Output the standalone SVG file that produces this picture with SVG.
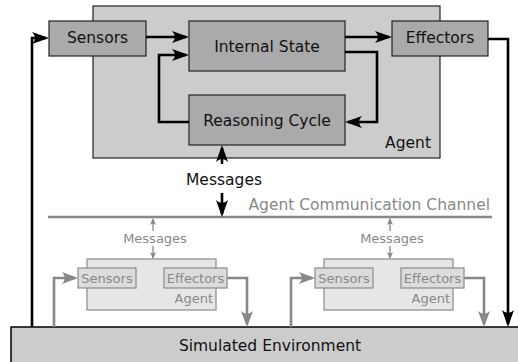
<svg xmlns="http://www.w3.org/2000/svg" width="518" height="362" viewBox="0 0 518 362">
<defs>
<style>
text{font-family:"DejaVu Sans","Liberation Sans",sans-serif}
.big{font-size:15.5px;fill:#111}
.sm{font-size:13px;fill:#888}
.box{fill:#aaaaaa;stroke:#222;stroke-width:1.2}
.sbox{fill:#dcdcdc;stroke:#8a8a8a;stroke-width:1.2}
.blk{fill:none;stroke:#000;stroke-width:2.6;stroke-linejoin:miter}
.gry{fill:none;stroke:#888;stroke-width:2.6}
.gryt{fill:none;stroke:#888;stroke-width:1.3}
</style>
<marker id="ab" viewBox="-18 -7 21 14" refX="-3" refY="0" markerWidth="21" markerHeight="14" markerUnits="userSpaceOnUse" orient="auto">
<path d="M0,0 L-17,-6 Q-11,0 -17,6 Z" fill="#000"/>
</marker>
<marker id="ag" viewBox="-18 -7 21 14" refX="-3" refY="0" markerWidth="21" markerHeight="14" markerUnits="userSpaceOnUse" orient="auto">
<path d="M0,0 L-16,-6 Q-10.5,0 -16,6 Z" fill="#888"/>
</marker>
<marker id="agt" viewBox="-8 -4 9 8" refX="-1" refY="0" markerWidth="9" markerHeight="8" markerUnits="userSpaceOnUse" orient="auto">
<path d="M0,0 L-7,-3 Q-4.5,0 -7,3 Z" fill="#888"/>
</marker>
</defs>
<g id="agent">
<rect x="93" y="6" width="347" height="152" fill="#cccccc" stroke="#222" stroke-width="1.2"/>
<text class="big" x="431" y="148" text-anchor="end">Agent</text>
</g>
<g id="sensors">
<rect class="box" x="49" y="21" width="97" height="35"/>
<text class="big" x="97.5" y="43" text-anchor="middle">Sensors</text>
</g>
<g id="internal-state">
<rect class="box" x="189" y="21" width="156" height="50"/>
<text class="big" x="267" y="52" text-anchor="middle">Internal State</text>
</g>
<g id="reasoning-cycle">
<rect class="box" x="189" y="95" width="156" height="50"/>
<text class="big" x="267" y="126" text-anchor="middle">Reasoning Cycle</text>
</g>
<g id="effectors">
<rect class="box" x="392" y="21" width="96" height="35"/>
<text class="big" x="440" y="43" text-anchor="middle">Effectors</text>
</g>
<g id="channel">
<line x1="48" y1="217" x2="492" y2="217" stroke="#888" stroke-width="2.6"/>
<text class="big" x="490" y="210" text-anchor="end" style="fill:#888">Agent Communication Channel</text>
</g>
<g id="agent2">
<rect x="87" y="259" width="129" height="51" fill="#e6e6e6" stroke="#8a8a8a" stroke-width="1.2"/>
<text class="sm" x="213" y="303" text-anchor="end">Agent</text>
<rect class="sbox" x="78" y="268" width="58" height="20"/>
<text class="sm" x="107" y="283" text-anchor="middle">Sensors</text>
<rect class="sbox" x="164" y="268" width="63" height="20"/>
<text class="sm" x="195.5" y="283" text-anchor="middle">Effectors</text>
</g>
<g id="agent3">
<rect x="324" y="259" width="129" height="51" fill="#e6e6e6" stroke="#8a8a8a" stroke-width="1.2"/>
<text class="sm" x="450" y="303" text-anchor="end">Agent</text>
<rect class="sbox" x="315" y="268" width="58" height="20"/>
<text class="sm" x="344" y="283" text-anchor="middle">Sensors</text>
<rect class="sbox" x="401" y="268" width="63" height="20"/>
<text class="sm" x="432.5" y="283" text-anchor="middle">Effectors</text>
</g>
<g id="environment">
<rect x="11" y="327" width="520" height="50" fill="#cccccc" stroke="#000" stroke-width="1.5"/>
<text class="big" x="270" y="351" text-anchor="middle">Simulated Environment</text>
</g>
<g id="connectors">
<path class="blk" d="M32,327 V38 H46" marker-end="url(#ab)"/>
<path class="blk" d="M146,37 H186" marker-end="url(#ab)"/>
<path class="blk" d="M189,122 H159 V55 H186" marker-end="url(#ab)"/>
<path class="blk" d="M345,37 H389" marker-end="url(#ab)"/>
<path class="blk" d="M345,52 H377 V122 H348" marker-end="url(#ab)"/>
<path class="blk" d="M488,39 H508 V324" marker-end="url(#ab)"/>
<path class="blk" d="M222,164 V148" marker-end="url(#ab)"/>
<path class="blk" d="M222,193 V214" marker-end="url(#ab)"/>
<text class="big" x="224" y="185" text-anchor="middle">Messages</text>
<path class="gry" d="M54,327 V278 H75" marker-end="url(#ag)"/>
<path class="gry" d="M227,278 H247 V324" marker-end="url(#ag)"/>
<path class="gryt" d="M153,231 V219" marker-end="url(#agt)"/>
<path class="gryt" d="M153,246 V258" marker-end="url(#agt)"/>
<text class="sm" x="155" y="243" text-anchor="middle">Messages</text>
<path class="gry" d="M291,327 V278 H312" marker-end="url(#ag)"/>
<path class="gry" d="M464,278 H484 V324" marker-end="url(#ag)"/>
<path class="gryt" d="M390,231 V219" marker-end="url(#agt)"/>
<path class="gryt" d="M390,246 V258" marker-end="url(#agt)"/>
<text class="sm" x="392" y="243" text-anchor="middle">Messages</text>
</g>
</svg>
